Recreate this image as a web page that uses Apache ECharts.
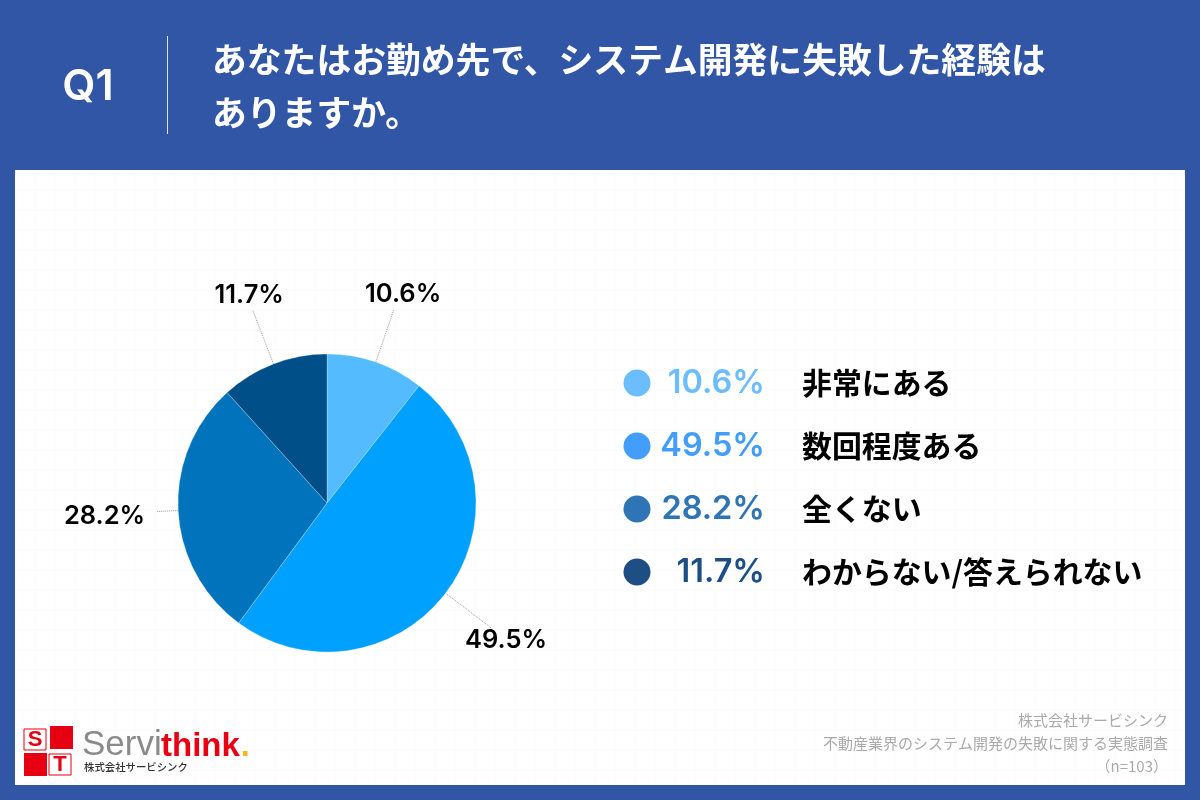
<!DOCTYPE html>
<html>
<head>
<meta charset="utf-8">
<style>html,body{margin:0;padding:0;background:#3156a6}#main{width:1200px;height:800px}</style>
<script src="https://cdn.jsdelivr.net/npm/echarts@6/dist/echarts.min.js"></script>
</head>
<body>
<div id="main"></div>
<script>
const categories = ['非常にある', '数回程度ある', '全くない', 'わからない/答えられない'];
const values = [10.6, 49.5, 28.2, 11.7];
const sliceColors = ['#55bbff', '#00a0ff', '#0073bd', '#004f88'];
const legendColors = ['#6cbdfd', '#429efa', '#2f74b5', '#1d4f84'];
const titleLines = ['あなたはお勤め先で、システム開発に失敗した経験は', 'ありますか。'];
const footerLines = ['株式会社サービシンク', '不動産業界のシステム開発の失敗に関する実態調査', '（n=103）'];

const jp = '"Noto Sans CJK JP"';
const num = 'Inter, "Noto Sans"';
const red = '#e60012';
// line lengths and nudges that put the pie's outside labels where the reference has them
const lineLength = [56, 57, 22, 57];
const labelShift = [[-34, -15], [-31, 13], [-6, 5], [36, -15]];

let chart = echarts.init(document.getElementById('main'));
let g = [];

// header + white panel
g.push({ type: 'rect', z: 0, shape: { x: 0, y: 0, width: 1200, height: 800 }, style: { fill: '#3156a6' } });
g.push({ type: 'rect', z: 1, shape: { x: 15, y: 170, width: 1170, height: 615 }, style: { fill: '#fff' } });
// very faint grid behind the chart
for (let x = 35; x < 1185; x += 20) {
    g.push({ type: 'line', z: 2, shape: { x1: x, y1: 171, x2: x, y2: 784 }, style: { stroke: '#fbfbfb', lineWidth: 1 } });
}
for (let y = 190; y < 785; y += 20) {
    g.push({ type: 'line', z: 2, shape: { x1: 16, y1: y, x2: 1184, y2: y }, style: { stroke: '#fbfbfb', lineWidth: 1 } });
}
g.push({ type: 'text', z: 5, style: { x: 88, y: 87, text: 'Q1', fill: '#fff', font: '600 43px ' + num, textAlign: 'center', textVerticalAlign: 'middle' } });
g.push({ type: 'line', z: 5, shape: { x1: 167.5, y1: 36, x2: 167.5, y2: 134 }, style: { stroke: '#dfe5f2', lineWidth: 1 } });
titleLines.forEach((t, i) => {
    g.push({ type: 'text', z: 5, style: { x: 212, y: 60 + i * 53, text: t, fill: '#fff', font: '700 34.8px ' + jp, textVerticalAlign: 'middle' } });
});

// legend on the right
categories.forEach((c, i) => {
    let y = 383 + i * 63;
    g.push({ type: 'circle', z: 5, shape: { cx: 637, cy: y, r: 13.5 }, style: { fill: legendColors[i] } });
    g.push({ type: 'text', z: 5, style: { x: 765, y: y, text: values[i].toFixed(1) + '%', fill: legendColors[i], font: '600 32.5px ' + num, textAlign: 'right', textVerticalAlign: 'middle' } });
    g.push({ type: 'text', z: 5, style: { x: 802, y: y, text: c, fill: '#000', font: '700 29.9px ' + jp, textVerticalAlign: 'middle' } });
});

// footer
footerLines.forEach((t, i) => {
    g.push({ type: 'text', z: 5, style: { x: 1168, y: 720 + i * 23, text: t, fill: '#aaaaaa', font: '400 15px ' + jp, textAlign: 'right', textVerticalAlign: 'middle' } });
});

// logo
g.push({ type: 'rect', z: 5, shape: { x: 24, y: 729, width: 22, height: 21 }, style: { fill: '#fff', stroke: red, lineWidth: 1 } });
g.push({ type: 'rect', z: 5, shape: { x: 50, y: 726, width: 23, height: 23 }, style: { fill: red } });
g.push({ type: 'rect', z: 5, shape: { x: 24, y: 753, width: 23, height: 23 }, style: { fill: red } });
g.push({ type: 'rect', z: 5, shape: { x: 49, y: 754, width: 22, height: 21 }, style: { fill: '#fff', stroke: red, lineWidth: 1 } });
g.push({ type: 'text', z: 6, style: { x: 35, y: 740, text: 'S', fill: red, font: '700 22px "Liberation Sans"', textAlign: 'center', textVerticalAlign: 'middle' } });
g.push({ type: 'text', z: 6, style: { x: 60, y: 765, text: 'T', fill: red, font: '700 22px "Liberation Sans"', textAlign: 'center', textVerticalAlign: 'middle' } });
g.push({ type: 'text', z: 5, style: { x: 82, y: 763, text: 'Servi', fill: '#8a8a8a', font: '400 35px "Liberation Sans"', textVerticalAlign: 'bottom' } });
g.push({ type: 'text', z: 5, style: { x: 161, y: 763, text: 'think', fill: red, font: '700 33px "Liberation Sans"', textVerticalAlign: 'bottom' } });
g.push({ type: 'rect', z: 5, shape: { x: 243, y: 751, width: 4.5, height: 5 }, style: { fill: '#f5b71d' } });
g.push({ type: 'text', z: 5, style: { x: 84, y: 767, text: '株式会社サービシンク', fill: '#333', font: '500 10.4px ' + jp, textVerticalAlign: 'middle' } });

chart.setOption({
    animation: false,
    graphic: { elements: g },
    series: [
        {
            type: 'pie',
            z: 10,
            center: [327, 503],
            radius: [0, 149],
            startAngle: 90,
            clockwise: true,
            itemStyle: { borderColor: 'rgba(255,255,255,0.5)', borderWidth: 0.5 },
            label: {
                show: true,
                formatter: (p) => p.value.toFixed(1) + '%',
                color: '#000',
                fontFamily: num,
                fontWeight: 600,
                fontSize: 25.5
            },
            labelLine: {
                show: true,
                lineStyle: { color: '#9a9a9a', width: 1, type: 'dotted' }
            },
            labelLayout: (p) => ({ dx: labelShift[p.dataIndex][0], dy: labelShift[p.dataIndex][1] }),
            data: categories.map((c, i) => ({
                name: c,
                value: values[i],
                itemStyle: { color: sliceColors[i] },
                labelLine: { length: lineLength[i], length2: 0 }
            }))
        }
    ]
});
</script>
</body>
</html>
